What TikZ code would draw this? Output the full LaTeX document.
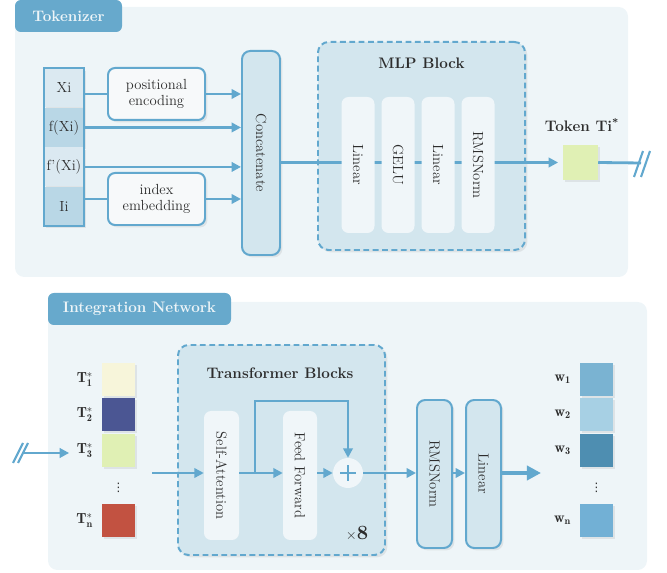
\documentclass[tikz,border=0pt]{standalone}
\usepackage{fontspec}
\usepackage{graphicx}
\usepackage{tikz}
\usetikzlibrary{arrows.meta, positioning, shadows}
\newfontfamily\dotsfont{DejaVu Sans}
\definecolor{panelcolor}{RGB}{238,245,248}
\definecolor{tabcolor}{RGB}{103,169,204}
\definecolor{linecolor}{RGB}{98,168,206}
\definecolor{blockcolor}{RGB}{211,230,238}
\definecolor{innercolor}{RGB}{240,246,249}
\definecolor{boxcolor}{RGB}{247,249,250}
\definecolor{celllight}{RGB}{219,233,241}
\definecolor{celldark}{RGB}{185,215,230}
\definecolor{textcolor}{RGB}{45,45,45}
\definecolor{tokencolor}{RGB}{224,240,180}
\definecolor{tonecolor}{RGB}{247,245,218}
\definecolor{ttwocolor}{RGB}{75,86,147}
\definecolor{tncolor}{RGB}{194,82,65}
\definecolor{wonecolor}{RGB}{122,179,210}
\definecolor{wtwocolor}{RGB}{167,208,228}
\definecolor{wthreecolor}{RGB}{78,142,177}
\definecolor{wncolor}{RGB}{114,176,213}

\def\pxl{0.03cm}

\begin{document}
\begin{tikzpicture}[x=0.03cm, y=-0.03cm, font=\fontsize{12.5}{14}\selectfont, text=textcolor,
  flow/.style={draw=linecolor, line width=2.4pt},
  arr/.style={flow, -{Triangle[length=8pt, width=8pt]}},
  softshadow/.style={drop shadow={shadow xshift=2pt, shadow yshift=-2pt, opacity=0.15}},
  tab/.style={fill=tabcolor, rounded corners=5pt, text=panelcolor, font=\fontsize{13}{15}\selectfont\bfseries, inner sep=0pt},
  cellbox/.style={minimum width=40*\pxl, minimum height=39*\pxl, inner sep=0pt, softshadow},
  opbox/.style={draw=linecolor, line width=1.7pt, fill=boxcolor, rounded corners=6pt, minimum width=97*\pxl, minimum height=52*\pxl, align=center, inner sep=0pt, softshadow},
  block/.style={draw=linecolor, line width=1.7pt, fill=blockcolor, rounded corners=7pt, minimum width=35*\pxl, inner sep=0pt, softshadow},
  dashblock/.style={draw=linecolor, line width=1.7pt, dash pattern=on 5pt off 3pt, fill=blockcolor, rounded corners=9pt, inner sep=0pt, softshadow},
  layerbox/.style={fill=innercolor, rounded corners=6pt, minimum width=33*\pxl, inner sep=0pt},
  tile/.style={minimum size=33*\pxl, inner sep=0pt, softshadow},
  blocktitle/.style={font=\fontsize{13}{15}\selectfont\bfseries}]

\useasboundingbox (0,0) rectangle (667,573);

% Panels and their tabs
\fill[panelcolor, rounded corners=8pt] (15,7) rectangle (628,277);
\node[tab, minimum width=107*\pxl, minimum height=32*\pxl] (toktab) at (68.5,16) {Tokenizer};
\fill[panelcolor, rounded corners=8pt] (48,302) rectangle (647,570);
\node[tab, minimum width=183*\pxl, minimum height=32*\pxl] (inttab) at (139.5,309) {Integration Network};

% Input column
\node[cellbox, fill=celllight] (xi) at (64,88) {Xi};
\node[cellbox, fill=celldark, below=0pt of xi] (fxi) {f(Xi)};
\node[cellbox, fill=celllight, below=0pt of fxi] (fpxi) {f'(Xi)};
\node[cellbox, fill=celldark, below=0pt of fpxi] (ii) {Ii};
\draw[draw=linecolor, line width=1.7pt] (xi.north west) rectangle (ii.south east);

% Encodings and concatenation
\node[opbox] (posenc) at (156.5,94) {positional\\encoding};
\node[opbox] (idxemb) at (156.5,199) {index\\embedding};
\node[block, minimum width=38*\pxl, minimum height=204*\pxl] (concat) at (261,153) {\rotatebox{-90}{Concatenate}};

\draw[flow] (xi.east |- posenc.west) -- (posenc.west);
\draw[arr] (posenc.east) -- (posenc.east -| concat.west);
\draw[arr] (fxi.east) -- (fxi.east -| concat.west);
\draw[arr] (fpxi.east) -- (fpxi.east -| concat.west);
\draw[flow] (ii.east |- idxemb.west) -- (idxemb.west);
\draw[arr] (idxemb.east) -- (idxemb.east -| concat.west);

% MLP block
\node[dashblock, minimum width=207*\pxl, minimum height=208*\pxl] (mlp) at (421.5,146) {};
\node[blocktitle] (mlptitle) at (421.5,63) {MLP Block};
\node[tile, fill=tokencolor, minimum size=35*\pxl] (tok) at (580.5,162.5) {};
\node[blocktitle] (toklab) at (582,125) {Token Ti\textsuperscript{*}};
\draw[arr, shorten >=4pt] (concat.east |- tok.west) -- (tok.west);

\node[layerbox, minimum height=136*\pxl] (lin1) at (358,165) {\rotatebox{-90}{Linear}};
\node[layerbox, minimum height=136*\pxl] (gelu) at (398,165) {\rotatebox{-90}{GELU}};
\node[layerbox, minimum height=136*\pxl] (lin2) at (438,165) {\rotatebox{-90}{Linear}};
\node[layerbox, minimum height=136*\pxl] (norm1) at (478,165) {\rotatebox{-90}{RMSNorm}};

% Break mark after the token
\coordinate (tokend) at (641,163);
\draw[flow] (tok.east) -- (tokend);
\draw[flow, line width=1.8pt] ([shift={(-7,14)}]tokend) -- ([shift={(2,-12)}]tokend)
  ([shift={(0,14)}]tokend) -- ([shift={(9,-12)}]tokend);

% Token sequence
\node[tile, fill=tonecolor] (t1) at (118.5,379.5) {};
\node[tile, fill=ttwocolor] (t2) at (118.5,414.5) {};
\node[tile, fill=tokencolor] (t3) at (118.5,450.5) {};
\node[font=\dotsfont\fontsize{10}{10}\selectfont] (tdots) at (118.5,488) {⋮};
\node[tile, fill=tncolor] (tn) at (118.5,520.5) {};
\node[left=4pt of t1] (t1lab) {$\mathbf{T_1^*}$};
\node[left=4pt of t2] (t2lab) {$\mathbf{T_2^*}$};
\node[left=4pt of t3] (t3lab) {$\mathbf{T_3^*}$};
\node[left=4pt of tn] (tnlab) {$\mathbf{T_n^*}$};

\coordinate (tin) at (23,453);
\draw[arr, shorten >=3pt] (tin) -- (tin -| t3lab.west);
\draw[flow, line width=1.8pt] ([shift={(-10,10)}]tin) -- ([shift={(0,-10)}]tin)
  ([shift={(-5,10)}]tin) -- ([shift={(5,-10)}]tin);

% Transformer blocks
\node[dashblock, minimum width=207*\pxl, minimum height=210*\pxl] (tfb) at (281.5,450) {};
\node[blocktitle] (tfbtitle) at (280,373) {Transformer Blocks};
\node[layerbox, minimum width=35*\pxl, minimum height=129*\pxl] (sa) at (221.5,475.5) {\rotatebox{-90}{Self-Attention}};
\node[layerbox, minimum width=34*\pxl, minimum height=129*\pxl] (ff) at (300,475.5) {\rotatebox{-90}{Feed Forward}};
\node[circle, fill=innercolor, minimum size=30*\pxl, inner sep=0pt] (plus) at (348,473) {};
\draw[flow] ([xshift=-8*\pxl]plus.center) -- ([xshift=8*\pxl]plus.center)
  ([yshift=-8*\pxl]plus.center) -- ([yshift=8*\pxl]plus.center);
\node (reps) at (357,533) {$\times$\textbf{\LARGE 8}};

\node[block, minimum height=148*\pxl] (norm2) at (434.5,474) {\rotatebox{-90}{RMSNorm}};
\node[block, minimum height=148*\pxl] (lin3) at (483.5,474) {\rotatebox{-90}{Linear}};

\coordinate (tin2) at (152,473);
\coordinate (split) at (255,473);
\coordinate (outc) at (541,473);
\draw[arr] (tin2) -- (tin2 -| sa.west);
\draw[arr] (sa.east |- tin2) -- (ff.west |- tin2);
\draw[arr] (split) -- ++(0,-72) -| (plus.north);
\draw[arr] (ff.east |- plus) -- (plus.west);
\draw[arr] (plus.east) -- (plus.east -| norm2.west);
\draw[arr] (norm2.east |- plus) -- (lin3.west |- plus);
\draw[flow, line width=3.4pt, -{Triangle[length=12pt, width=12pt]}] (lin3.east |- plus) -- (outc);

% Output weights
\node[tile, fill=wonecolor] (w1) at (596.5,379.5) {};
\node[tile, fill=wtwocolor] (w2) at (596.5,414.5) {};
\node[tile, fill=wthreecolor] (w3) at (596.5,450.5) {};
\node[font=\dotsfont\fontsize{10}{10}\selectfont] (wdots) at (596.5,488) {⋮};
\node[tile, fill=wncolor] (wn) at (596.5,520.5) {};
\node[left=4pt of w1] (w1lab) {$\mathbf{w_1}$};
\node[left=4pt of w2] (w2lab) {$\mathbf{w_2}$};
\node[left=4pt of w3] (w3lab) {$\mathbf{w_3}$};
\node[left=4pt of wn] (wnlab) {$\mathbf{w_n}$};

\end{tikzpicture}
\end{document}
